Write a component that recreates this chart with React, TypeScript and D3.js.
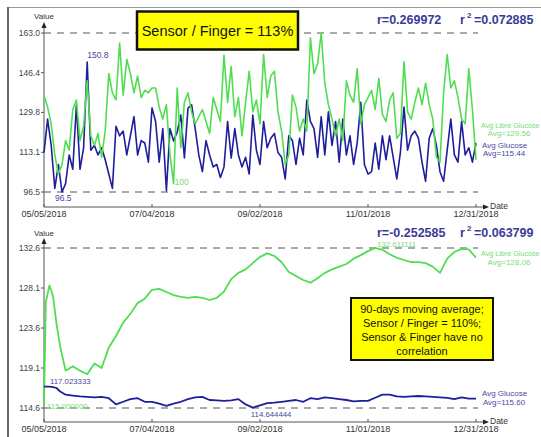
import React from "react";
import * as d3 from "d3";

// ---------- data ----------
const START = new Date(2018, 4, 5);
const END = new Date(2018, 11, 31);
const dateTicks = ["05/05/2018", "07/04/2018", "09/02/2018", "11/01/2018", "12/31/2018"];
const topYTicks = [163.0, 146.4, 129.8, 113.1, 96.5];
const bottomYTicks = [132.6, 128.1, 123.6, 119.1, 114.6];

// daily readings, one every 2 days
const topStepDays = 2;
const topLibre = [
  137, 132, 125, 112, 104, 108, 118, 114, 131, 135, 118, 124, 143, 120, 116, 121, 111, 122, 146, 138,
  135, 158.8, 137, 152, 146, 138, 145, 136, 139,
  138, 140, 140, 132, 127, 133, 112, 100, 140, 115, 134, 138, 130, 125, 128, 131, 126, 121, 136, 131,
  126, 153.8, 134, 149, 128, 136, 120, 134, 147, 130,
  135, 125, 154, 136, 145, 147, 130, 122, 108, 112, 137, 132, 122, 127, 122, 161, 146, 150, 163, 142,
  133, 127, 120, 127, 118, 143, 137, 134,
  148, 125, 133, 136, 139, 131, 144, 129, 126, 135, 138, 119, 121, 151, 130, 127, 134, 140, 133, 142,
  133, 127, 111, 109, 138, 154, 140, 143, 136, 127, 125, 148, 131, 110,
];
const topFinger = [
  113, 127, 116, 98, 108, 96.5, 100, 112, 106, 133, 106, 115, 150.8, 114, 116, 112, 115, 110, 104, 98,
  124, 120, 122, 112, 120, 128, 112, 118, 117,
  109, 131.6, 126, 109, 123, 97, 123, 117.8, 121.6, 128.7, 110.7, 131.6, 133, 123, 112, 105, 118, 112,
  107, 108, 102.6, 107, 126, 110.7, 123, 112, 107, 111, 104, 128.7,
  114, 108, 126, 115, 119, 121, 113, 111, 102, 120, 118, 108, 119, 112, 135, 126, 123, 111, 128, 112,
  130, 116, 126, 109, 127, 112, 120, 108,
  117, 134, 108, 104, 105, 117, 106, 120, 110, 120, 111, 102, 113, 132, 114, 120, 122, 119, 109, 101,
  119, 123, 116, 105, 101, 114, 127, 112, 109, 126, 112, 115, 109, 117,
];

// 90-day moving averages
const bottomDays = [
  0, 1, 3, 5, 7, 9, 12, 16, 20, 24, 28, 32, 36, 40, 44, 48, 52, 56, 60, 64, 68, 72, 76, 80, 84, 88, 92,
  96, 100, 104, 108, 112, 116, 120, 124, 128, 132, 136, 140, 144, 148, 152, 156, 160, 164, 168, 172,
  176, 180, 184, 188, 192, 196, 200, 204, 208, 212, 216, 220, 224, 228, 232, 236, 240,
];
const bottomLibre = [
  115.0, 126.5, 128.4, 127.2, 124.0, 121.5,
  118.8, 119.3, 118.8, 118.4, 119.6, 119.1, 121.4, 122.7, 124.2, 125.2, 126.4, 126.9, 127.9, 128.0,
  127.65, 127.3, 127.1, 127.0, 127.1, 127.0, 126.75, 127.0, 127.7, 129.1, 129.8, 130.2, 130.9, 131.6,
  132.0, 131.7, 131.0, 129.9, 129.45, 129.0, 128.7, 129.2, 129.8, 130.2, 130.5, 130.8, 131.4, 131.8,
  132.25, 132.611111, 132.4, 131.9, 131.5, 131.25, 131.0, 131.0, 130.9, 130.5, 129.8, 131.4, 132.15,
  132.5, 132.45, 131.5,
];
const bottomFinger = [
  117.023333, 117.0, 117.0, 116.95, 116.85, 116.45,
  116.1, 116.0, 115.9, 115.85, 115.8, 115.85, 115.7, 115.0, 115.3, 115.6, 115.7, 115.3, 115.3, 115.1,
  114.85, 115.1, 115.3, 115.6, 115.8, 115.85, 115.5, 115.45, 115.4, 115.45, 115.6, 115.0, 114.644444,
  114.9, 115.15, 115.2, 115.3, 115.4, 115.5, 115.3, 115.7, 115.6, 115.8, 115.7, 115.6, 115.5, 115.35,
  115.4, 115.4, 115.75, 116.1, 116.1, 115.9, 115.85, 115.9, 115.95, 115.9, 115.85, 115.8, 115.75,
  115.6, 115.8, 115.65, 115.65,
];

// ---------- style ----------
const GREEN = "#4fde4f";
const GREEN_TXT = "#78dc78";
const BLUE = "#1e1e9c";
const BLUE_TXT = "#4a4a9e";
const R_TXT = "#3b3b96";
const AXIS = "#555";
const FONT = "'Liberation Sans', Arial, Helvetica, sans-serif";

const parse = d3.timeParse("%m/%d/%Y");
const x = d3.scaleTime().domain([START, END]).range([44, 476]);

type Pt = { d: Date; v: number };

const topLibrePts: Pt[] = topLibre.map((v, i) => ({ d: d3.timeDay.offset(START, i * topStepDays), v }));
const topFingerPts: Pt[] = topFinger.map((v, i) => ({ d: d3.timeDay.offset(START, i * topStepDays), v }));
const botLibrePts: Pt[] = bottomLibre.map((v, i) => ({ d: d3.timeDay.offset(START, bottomDays[i]), v }));
const botFingerPts: Pt[] = bottomFinger.map((v, i) => ({ d: d3.timeDay.offset(START, bottomDays[i]), v }));

function Axes({ y, yTicks, axisY, topY, valueY }: any) {
  return (
    <g fontFamily={FONT}>
      <line x1={44} x2={44} y1={axisY} y2={topY + 4} stroke={AXIS} strokeWidth={1} />
      <path d={`M44,${topY} L41.5,${topY + 6} L46.5,${topY + 6} Z`} fill="#222" />
      <text x={44} y={valueY} fontSize={8} textAnchor="middle" fill="#333">Value</text>
      {yTicks.map((t: number) => (
        <g key={t}>
          <line x1={41} x2={44} y1={y(t)} y2={y(t)} stroke={AXIS} />
          <text x={40} y={y(t) + 3} fontSize={8.5} textAnchor="end" fill="#444">{t.toFixed(1)}</text>
        </g>
      ))}
      <line x1={44} x2={484} y1={axisY} y2={axisY} stroke={AXIS} strokeWidth={1} />
      <path d={`M489,${axisY} L483,${axisY - 2.5} L483,${axisY + 2.5} Z`} fill="#222" />
      <text x={490} y={axisY + 2} fontSize={8.5} fill="#333">Date</text>
      {dateTicks.map((s) => {
        const xx = x(parse(s) as Date);
        return (
          <g key={s}>
            <line x1={xx} x2={xx} y1={axisY - 3} y2={axisY} stroke={AXIS} />
            <text x={xx} y={axisY + 10} fontSize={9} textAnchor="middle" fill="#333">{s}</text>
          </g>
        );
      })}
    </g>
  );
}

function Dashed({ y, v }: any) {
  return <line x1={44} x2={478} y1={y(v)} y2={y(v)} stroke="#555" strokeWidth={1} strokeDasharray="7,6" />;
}

function RText({ r, r2, yy }: any) {
  return (
    <g fontFamily={FONT} fill={R_TXT} fontWeight={600}>
      <text x={377} y={yy} fontSize={12.5}>{r}</text>
      <text x={460} y={yy} fontSize={12.5}>r</text>
      <text x={467} y={yy - 6} fontSize={8}>2</text>
      <text x={474} y={yy} fontSize={12.5}>{r2}</text>
    </g>
  );
}

export default function App() {
  const yTop = d3.scaleLinear().domain([96.5, 163.0]).range([192, 33]);
  const yBot = d3.scaleLinear().domain([114.6, 132.6]).range([408, 248]);

  const lineTop = d3.line<Pt>().x((p) => x(p.d)).y((p) => yTop(p.v));
  const lineBot = d3.line<Pt>().x((p) => x(p.d)).y((p) => yBot(p.v));

  const maxF = topFingerPts.reduce((a, b) => (b.v > a.v ? b : a));
  const minF = topFingerPts.reduce((a, b) => (b.v < a.v ? b : a));
  const minL = topLibrePts.reduce((a, b) => (b.v < a.v ? b : a));
  const maxBL = botLibrePts.reduce((a, b) => (b.v > a.v ? b : a));
  const minBL = botLibrePts.reduce((a, b) => (b.v < a.v ? b : a));
  const maxBF = botFingerPts.reduce((a, b) => (b.v > a.v ? b : a));
  const minBF = botFingerPts.reduce((a, b) => (b.v < a.v ? b : a));

  return (
    <svg width={541} height={437} style={{ position: "absolute", left: 0, top: 0, background: "#fff" }}>
      <line x1={8} x2={541} y1={7.5} y2={7.5} stroke="#999" strokeWidth={1} />
      <line x1={8} x2={8} y1={7} y2={437} stroke="#666" strokeWidth={2} />

      {/* ---------- top panel ---------- */}
      <Dashed y={yTop} v={163.0} />
      <Dashed y={yTop} v={96.5} />
      <Axes y={yTop} yTicks={topYTicks} axisY={207} topY={22} valueY={19} />
      <path d={lineTop(topFingerPts) || ""} fill="none" stroke={BLUE} strokeWidth={1.6} strokeLinejoin="round" />
      <path d={lineTop(topLibrePts) || ""} fill="none" stroke={GREEN} strokeWidth={1.6} strokeLinejoin="round" />

      <g fontFamily={FONT} fontSize={8.5}>
        <text x={x(maxF.d)} y={yTop(maxF.v) - 4} fill={BLUE_TXT}>{maxF.v.toFixed(1)}</text>
        <text x={x(minF.d) - 7} y={yTop(minF.v) + 9} fill={BLUE_TXT}>{minF.v.toFixed(1)}</text>
        <text x={x(minL.d) + 1} y={yTop(minL.v) + 1} fill={GREEN_TXT}>{minL.v.toFixed(0)}</text>
        <text x={481} y={128} fontSize={7.2} fill={GREEN_TXT}>Avg Libre Glucose</text>
        <text x={509} y={136} fontSize={8} textAnchor="middle" fill={GREEN_TXT}>Avg=129.56</text>
        <text x={482} y={148} fontSize={8} fill={BLUE_TXT}>Avg Glucose</text>
        <text x={504} y={156} fontSize={8} textAnchor="middle" fill={BLUE_TXT}>Avg=115.44</text>
      </g>

      <RText r="r=0.269972" r2="=0.072885" yy={24} />

      <rect x={137} y={11.5} width={161} height={38} fill="#ffff00" stroke="#111" strokeWidth={2.5} />
      <text x={217.5} y={36} fontFamily={FONT} fontSize={14.5} textAnchor="middle" fill="#111">
        Sensor / Finger = 113%
      </text>

      {/* ---------- bottom panel ---------- */}
      <Dashed y={yBot} v={132.6} />
      <Dashed y={yBot} v={114.6} />
      <Axes y={yBot} yTicks={bottomYTicks} axisY={422} topY={238} valueY={236} />
      <path d={lineBot(botLibrePts) || ""} fill="none" stroke={GREEN} strokeWidth={1.8} strokeLinejoin="round" />
      <path d={lineBot(botFingerPts) || ""} fill="none" stroke={BLUE} strokeWidth={1.8} strokeLinejoin="round" />

      <g fontFamily={FONT} fontSize={7.8}>
        <text x={x(maxBL.d) + 2} y={yBot(maxBL.v) - 1} fill={GREEN_TXT}>{maxBL.v.toFixed(6)}</text>
        <text x={x(minBL.d) + 3} y={yBot(minBL.v) + 5} fill={GREEN_TXT}>{minBL.v.toFixed(6)}</text>
        <text x={x(maxBF.d) + 6} y={yBot(maxBF.v) - 2} fill={BLUE_TXT}>{maxBF.v.toFixed(6)}</text>
        <text x={x(minBF.d) - 2} y={yBot(minBF.v) + 9} fill={BLUE_TXT}>{minBF.v.toFixed(6)}</text>
        <text x={481} y={256} fontSize={7.2} fill={GREEN_TXT}>Avg Libre Glucose</text>
        <text x={509} y={265} fontSize={8} textAnchor="middle" fill={GREEN_TXT}>Avg=128.06</text>
        <text x={482} y={396} fontSize={8} fill={BLUE_TXT}>Avg Glucose</text>
        <text x={504} y={405} fontSize={8} textAnchor="middle" fill={BLUE_TXT}>Avg=115.60</text>
      </g>

      <RText r="r=-0.252585" r2="=0.063799" yy={237} />

      <rect x={351} y={298} width={142} height={62} fill="#ffff00" stroke="#111" strokeWidth={2} />
      <g fontFamily={FONT} fontSize={11} textAnchor="middle" fill="#111">
        <text x={422} y={313}>90-days moving average;</text>
        <text x={422} y={327}>Sensor / Finger = 110%;</text>
        <text x={422} y={341}>Sensor &amp; Finger have no</text>
        <text x={422} y={355}>correlation</text>
      </g>
    </svg>
  );
}
